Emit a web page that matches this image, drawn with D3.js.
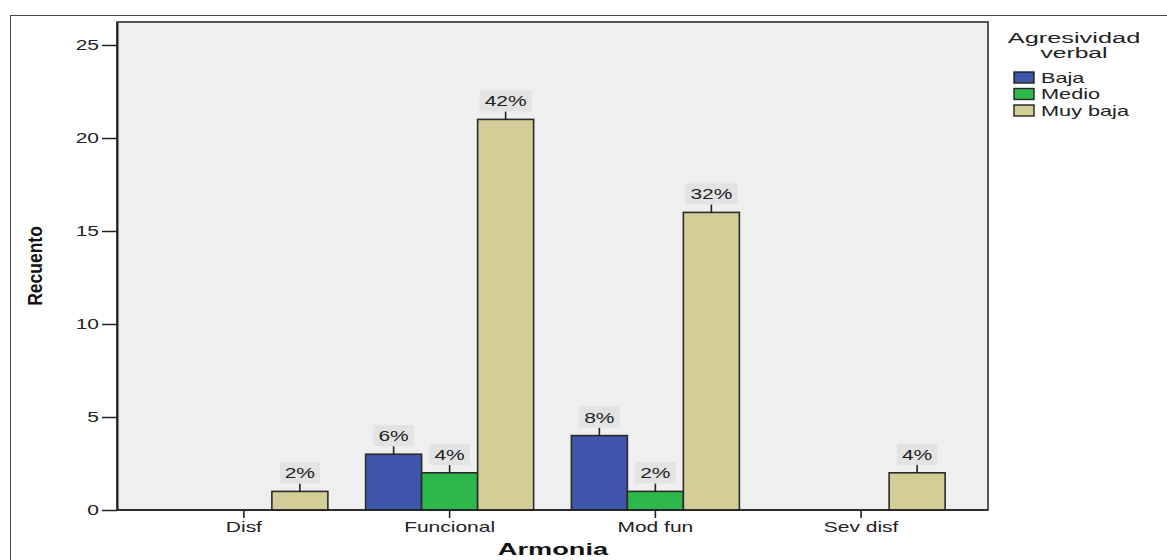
<!DOCTYPE html>
<html><head><meta charset="utf-8">
<script src="https://cdn.jsdelivr.net/npm/d3@7"></script>
<style>body{margin:0;background:#fff}svg{display:block}text{font-family:"Liberation Sans",Arial,sans-serif}</style>
</head><body><svg id="c" width="1167" height="560"></svg>
<script>
const categories = ["Disf", "Funcional", "Mod fun", "Sev disf"];
const seriesNames = ["Baja", "Medio", "Muy baja"];
const baja = [0, 3, 4, 0];
const medio = [0, 2, 1, 0];
const muyBaja = [1, 21, 16, 2];
const pctBaja = ["", "6%", "8%", ""];
const pctMedio = ["", "4%", "2%", ""];
const pctMuyBaja = ["2%", "42%", "32%", "4%"];
const yTicks = [0, 5, 10, 15, 20, 25];
const colors = ["#3d56a9", "#2eb84b", "#d3ce97"];

const K = 1.5; // horizontal stretch of text as in the reference
function hs(sel, k) {
  sel.each(function () {
    const t = d3.select(this);
    const x = +t.attr("x") || 0;
    t.attr("transform", `translate(${x},0) scale(${k},1) translate(${-x},0)`);
  });
}

const svg = d3.select("#c");
const L = 117, R = 988, T = 22, B = 510;

svg.append("rect").attr("x", 10.5).attr("y", 15.5).attr("width", 1200).attr("height", 600)
  .attr("fill", "#fff").attr("stroke", "#444").attr("stroke-width", 1);
svg.append("rect").attr("x", L).attr("y", T).attr("width", R - L).attr("height", B - T)
  .attr("fill", "#efefef").attr("stroke", "#444").attr("stroke-width", 1.8);

const y = d3.scaleLinear().domain([0, (B - T) / 18.6]).range([B, T]);
const x0 = d3.scaleBand().domain(categories).range([L + 24, R - 24]);
const x1 = d3.scaleBand().domain(seriesNames).range([x0.bandwidth() / 2 - 84, x0.bandwidth() / 2 + 84]);

const data = [baja, medio, muyBaja];
const pcts = [pctBaja, pctMedio, pctMuyBaja];

const g = svg.append("g");
seriesNames.forEach((s, si) => {
  categories.forEach((c, ci) => {
    const v = data[si][ci];
    if (!v) return;
    g.append("rect").attr("x", x0(c) + x1(s)).attr("y", y(v)).attr("width", x1.bandwidth()).attr("height", B - y(v))
      .attr("fill", colors[si]).attr("stroke", "#2a2a2a").attr("stroke-width", 1.6);
  });
});
const lab = svg.append("g");
seriesNames.forEach((s, si) => {
  categories.forEach((c, ci) => {
    const v = data[si][ci];
    if (!v) return;
    const cx = x0(c) + x1(s) + x1.bandwidth() / 2;
    const top = y(v);
    lab.append("line").attr("x1", cx).attr("x2", cx).attr("y1", top).attr("y2", top - 8)
      .attr("stroke", "#222").attr("stroke-width", 1.6);
    const box = lab.append("rect");
    const t = lab.append("text").attr("x", cx).attr("y", top - 13).attr("text-anchor", "middle")
      .attr("font-size", 14).attr("fill", "#222").text(pcts[si][ci]);
    hs(t, K);
    const w = t.node().getBBox().width * K;
    box.attr("x", cx - w / 2 - 5).attr("y", top - 29).attr("width", w + 10).attr("height", 21).attr("fill", "#e3e3e3");
  });
});

// y axis
const ya = svg.append("g").attr("transform", `translate(${L},0)`)
  .call(d3.axisLeft(y).tickValues(yTicks).tickSize(15).tickSizeOuter(0).tickPadding(3));
ya.select(".domain").attr("stroke", "#222").attr("stroke-width", 2);
ya.selectAll(".tick line").attr("stroke", "#222").attr("stroke-width", 1.5);
ya.selectAll("text").attr("font-size", 14).attr("fill", "#222").attr("font-family", "Liberation Sans, Arial, sans-serif");
hs(ya.selectAll("text"), K);

// x axis
const xa = svg.append("g").attr("transform", `translate(0,${B})`)
  .call(d3.axisBottom(x0).tickSize(8).tickPadding(4).tickSizeOuter(0));
xa.select(".domain").attr("stroke", "#222").attr("stroke-width", 1.6).attr("d", `M${L},0H${R}`);
xa.selectAll(".tick line").attr("stroke", "#222").attr("stroke-width", 1.6);
xa.selectAll("text").attr("font-size", 14).attr("fill", "#222").attr("font-family", "Liberation Sans, Arial, sans-serif");
hs(xa.selectAll("text"), K);

// axis titles
svg.append("text").attr("transform", "translate(42,266) rotate(-90) scale(1.25,1.5)").attr("text-anchor", "middle")
  .attr("font-size", 14).attr("font-weight", "bold").attr("fill", "#111").text("Recuento");
const at = svg.append("text").attr("x", 553).attr("y", 555).attr("text-anchor", "middle")
  .attr("font-size", 16).attr("font-weight", "bold").attr("fill", "#111").text("Armonia");
hs(at, 1.7);

// legend
const lg = svg.append("g");
const t1 = lg.append("text").attr("x", 1074).attr("y", 43).attr("text-anchor", "middle").attr("font-size", 14.5)
  .attr("fill", "#222").text("Agresividad");
const t2 = lg.append("text").attr("x", 1074).attr("y", 58).attr("text-anchor", "middle").attr("font-size", 14.5)
  .attr("fill", "#222").text("verbal");
hs(t1, 1.75); hs(t2, 1.7);
seriesNames.forEach((s, i) => {
  const yy = 72 + i * 16.5;
  lg.append("rect").attr("x", 1014).attr("y", yy).attr("width", 20).attr("height", 11)
    .attr("fill", colors[i]).attr("stroke", "#222").attr("stroke-width", 1.4);
  const tt = lg.append("text").attr("x", 1041).attr("y", yy + 11).attr("font-size", 14).attr("fill", "#222").text(s);
  hs(tt, 1.55);
});
</script></body></html>
